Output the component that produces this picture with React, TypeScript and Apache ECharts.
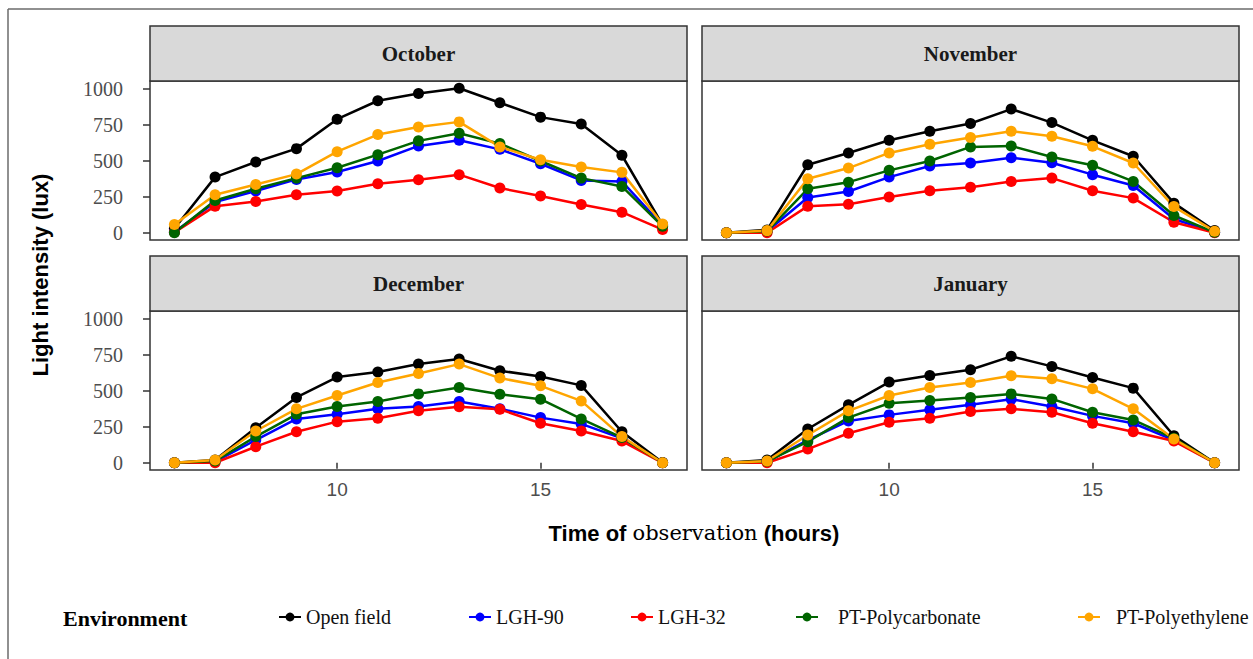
import React, { useEffect, useRef } from "react";
import * as echarts from "echarts";

const hours = [6, 7, 8, 9, 10, 11, 12, 13, 14, 15, 16, 17, 18];
const months = ["October", "November", "December", "January"];
const environments = ["Open field", "LGH-90", "LGH-32", "PT-Polycarbonate", "PT-Polyethylene"];
const envColors = ["#000000", "#0000ff", "#ff0000", "#006400", "#ffa500"];
const yTicks = [0, 250, 500, 750, 1000];
const xTicks = [10, 15];

// October
const octOpen = [30, 387, 492, 585, 790, 918, 969, 1005, 904, 804, 757, 539, 55];
const octLgh90 = [5, 213, 290, 371, 422, 499, 604, 643, 580, 480, 364, 357, 50];
const octLgh32 = [3, 185, 217, 264, 290, 341, 369, 404, 311, 255, 197, 143, 22];
const octCarb = [0, 224, 306, 380, 452, 543, 639, 692, 620, 499, 380, 322, 45];
const octEthy = [57, 264, 336, 408, 564, 683, 736, 771, 597, 508, 457, 420, 61];
// November
const novOpen = [0, 20, 473, 555, 643, 706, 760, 860, 766, 643, 532, 206, 15];
const novLgh90 = [0, 10, 245, 287, 387, 464, 485, 522, 487, 404, 329, 96, 3];
const novLgh32 = [0, 0, 185, 199, 248, 292, 317, 357, 380, 292, 241, 73, 0];
const novCarb = [0, 12, 306, 352, 434, 499, 597, 604, 527, 469, 357, 120, 3];
const novEthy = [0, 15, 376, 450, 555, 615, 662, 706, 671, 601, 485, 182, 10];
// December
const decOpen = [0, 19, 244, 454, 596, 631, 687, 721, 640, 600, 538, 216, 2];
const decLgh90 = [0, 8, 158, 305, 337, 375, 391, 426, 375, 314, 270, 170, 0];
const decLgh32 = [0, 0, 112, 216, 286, 309, 361, 389, 372, 275, 221, 151, 0];
const decCarb = [0, 12, 182, 337, 391, 426, 479, 524, 477, 442, 305, 175, 0];
const decEthy = [0, 19, 221, 375, 468, 558, 621, 686, 589, 535, 430, 182, 0];
// January
const janOpen = [0, 19, 235, 403, 561, 607, 647, 740, 670, 593, 519, 188, 0];
const janLgh90 = [0, 8, 158, 291, 333, 368, 403, 442, 391, 326, 275, 158, 0];
const janLgh32 = [0, 0, 95, 205, 282, 309, 356, 375, 351, 275, 216, 151, 0];
const janCarb = [0, 10, 147, 314, 414, 433, 454, 479, 444, 351, 298, 170, 0];
const janEthy = [0, 12, 193, 361, 468, 524, 558, 605, 584, 514, 375, 165, 0];

const monthData = [
  [octOpen, octLgh90, octLgh32, octCarb, octEthy],
  [novOpen, novLgh90, novLgh32, novCarb, novEthy],
  [decOpen, decLgh90, decLgh32, decCarb, decEthy],
  [janOpen, janLgh90, janLgh32, janCarb, janEthy],
];

const SERIF = "'Liberation Serif', 'DejaVu Serif', serif";
const SANS = "'Liberation Sans', Arial, sans-serif";

export default function App() {
  const ref = useRef<HTMLDivElement>(null);

  useEffect(() => {
    document.body.style.margin = "0";
    if (!ref.current) return;
    const chart = echarts.init(ref.current, undefined, { renderer: "svg" });

    const panelW = 537;
    const panelH = 159;
    const lefts = [150, 702, 150, 702];
    const tops = [81, 81, 311, 311];
    const stripH = 55;

    const grids = months.map((_, i) => ({
      left: lefts[i],
      top: tops[i],
      width: panelW,
      height: panelH,
      show: true,
      backgroundColor: "#ffffff",
      borderColor: "#333333",
      borderWidth: 1.5,
      containLabel: false,
    }));

    const xAxes = months.map((_, i) => {
      const bottom = i >= 2;
      return {
        type: "value",
        gridIndex: i,
        min: 5.4,
        max: 18.6,
        splitLine: { show: false },
        axisLine: { show: false },
        axisTick: {
          show: bottom,
          customValues: xTicks,
          length: 6,
          lineStyle: { color: "#333333", width: 1.5 },
        },
        axisLabel: {
          show: bottom,
          customValues: xTicks,
          margin: 10,
          color: "#4d4d4d",
          fontSize: 19,
          fontFamily: SANS,
          formatter: (v: number) => String(v),
        },
      };
    });

    const yAxes = months.map((_, i) => {
      const leftP = i % 2 === 0;
      return {
        type: "value",
        gridIndex: i,
        min: -50.25,
        max: 1055.25,
        splitLine: { show: false },
        axisLine: { show: false },
        axisTick: {
          show: leftP,
          customValues: yTicks,
          length: 7,
          lineStyle: { color: "#333333", width: 1.5 },
        },
        axisLabel: {
          show: leftP,
          customValues: yTicks,
          margin: 27,
          color: "#4d4d4d",
          fontSize: 20,
          fontFamily: SERIF,
          formatter: (v: number) => String(v),
        },
      };
    });

    const series: any[] = [];
    months.forEach((_, mi) => {
      environments.forEach((env, ei) => {
        series.push({
          type: "line",
          name: env,
          xAxisIndex: mi,
          yAxisIndex: mi,
          data: hours.map((h, k) => [h, monthData[mi][ei][k]]),
          symbol: "circle",
          symbolSize: 11,
          showSymbol: true,
          color: envColors[ei],
          lineStyle: { color: envColors[ei], width: 2.5 },
          itemStyle: { color: envColors[ei] },
          emphasis: { disabled: true },
        });
      });
    });

    const legendLefts = [278, 468, 630, 795, 1077];
    const legendPad = [0, 0, 0, 15, 11];
    const legends = environments.map((env, ei) => ({
      data: [env],
      left: legendLefts[ei],
      top: 607,
      padding: 0,
      itemWidth: 22,
      itemHeight: 11,
      selectedMode: false,
      textStyle: {
        color: "#111111",
        fontSize: 20,
        fontFamily: SERIF,
        padding: [0, 0, 0, legendPad[ei]],
      },
    }));

    const graphics: any[] = [
      { type: "line", shape: { x1: 8, y1: 9, x2: 1253, y2: 9 }, style: { stroke: "#6b6b6b", lineWidth: 1.5 } },
      { type: "line", shape: { x1: 8, y1: 9, x2: 8, y2: 659 }, style: { stroke: "#6b6b6b", lineWidth: 1.5 } },
    ];
    months.forEach((m, i) => {
      graphics.push({
        type: "rect",
        shape: { x: lefts[i], y: tops[i] - stripH, width: panelW, height: stripH },
        style: { fill: "#d9d9d9", stroke: "#333333", lineWidth: 1.5 },
      });
      graphics.push({
        type: "text",
        x: lefts[i] + panelW / 2,
        y: tops[i] - stripH / 2,
        style: {
          text: m,
          fill: "#1a1a1a",
          font: `bold 21px ${SERIF}`,
          textAlign: "center",
          textVerticalAlign: "middle",
        },
      });
    });
    graphics.push({
      type: "text",
      x: 40,
      y: 275,
      rotation: Math.PI / 2,
      style: {
        text: "Light intensity (lux)",
        fill: "#000000",
        font: `bold 22px ${SANS}`,
        textAlign: "center",
        textVerticalAlign: "middle",
      },
    });
    graphics.push({
      type: "text",
      x: 694,
      y: 533,
      style: {
        text: "{a|Time of }{b|observation}{a| (hours)}",
        textAlign: "center",
        textVerticalAlign: "middle",
        rich: {
          a: { fontFamily: SANS, fontWeight: "bold", fontSize: 22, fill: "#000000" },
          b: { fontFamily: "'DejaVu Serif', serif", fontWeight: "normal", fontSize: 21, fill: "#000000" },
        },
      },
    });
    graphics.push({
      type: "text",
      x: 63,
      y: 618,
      style: {
        text: "Environment",
        fill: "#000000",
        font: `bold 22px ${SERIF}`,
        textAlign: "left",
        textVerticalAlign: "middle",
      },
    });

    chart.setOption({
      animation: false,
      backgroundColor: "#ffffff",
      grid: grids,
      xAxis: xAxes,
      yAxis: yAxes,
      series,
      legend: legends,
      graphic: graphics,
    });

    return () => {
      chart.dispose();
    };
  }, []);

  return <div ref={ref} style={{ width: 1253, height: 659 }} />;
}
